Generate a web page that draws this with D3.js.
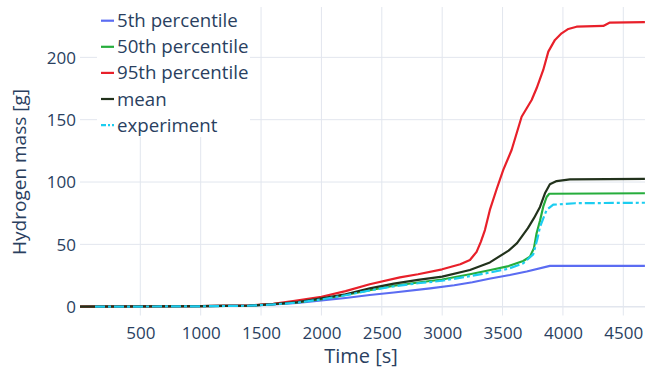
<!DOCTYPE html>
<html>
<head>
<meta charset="utf-8">
<script src="https://cdn.jsdelivr.net/npm/d3@7"></script>
<style>
  html, body { margin: 0; padding: 0; background: #fff; }
  svg { display: block; }
  text { font-family: "Open Sans", verdana, arial, sans-serif; fill: #2a3f5f; }
</style>
</head>
<body>
<svg id="chart" width="646" height="369"></svg>
<script>
// Hydrogen mass over time: percentiles, mean and experiment
const seriesNames = ["5th percentile", "50th percentile", "95th percentile", "mean", "experiment"];
const seriesColors = ["#5b6cf2", "#26ad3c", "#e8202a", "#22321c", "#1ccdf0"];

const p5 = [[0,0],[1000,0.4],[1400,0.8],[1600,1.8],[1800,3],[2000,5],[2200,7],[2400,9.4],[2600,11.4],
  [2900,14.7],[3100,17.2],[3250,19.6],[3400,22.6],[3560,25.4],[3700,28.2],[3892,32.7],[4679,32.7]];
const p50 = [[0,0],[1000,0.4],[1400,0.9],[1600,2],[1800,3.5],[2000,6],[2200,9.5],[2400,13.2],[2600,16.8],
  [2800,19.4],[3000,21.8],[3230,26],[3400,29.4],[3550,32.6],[3671,36.7],[3727,40.1],[3760,47],[3782,58.9],
  [3810,69],[3837,80.2],[3865,88],[3887,90.6],[4679,91]];
const p95 = [[0,0],[1000,0.5],[1400,1],[1600,2.2],[1765,4.6],[2000,8],[2200,12.5],[2400,18],[2650,23.5],
  [2800,26],[3000,30],[3150,34],[3230,37.5],[3285,44],[3320,52],[3354,61.5],[3395,77.6],[3450,94],
  [3506,109.7],[3575,125.7],[3658,152.4],[3741,165.8],[3782,175.2],[3837,189.9],[3879,204.6],[3934,214],
  [3989,219.3],[4045,222.8],[4113,224.6],[4334,225.2],[4389,227.9],[4679,228.2]];
const meanVals = [[0,0],[1000,0.4],[1400,0.9],[1600,2],[1800,3.7],[2000,6.7],[2200,10],[2400,14.7],
  [2600,18.5],[2800,21.5],[3000,24.1],[3230,29.4],[3395,35.5],[3550,45],[3620,51],[3710,63],[3760,71],
  [3810,80],[3851,91],[3892,98.2],[3948,100.8],[4058,102.2],[4679,102.5]];
const experiment = [[125,0],[1000,0.3],[1400,0.8],[1600,1.8],[1800,3.3],[2000,5.8],[2200,9.2],[2400,13],
  [2600,16.3],[2800,18.8],[3000,20.8],[3230,24.5],[3400,27.5],[3550,30.5],[3671,34.8],[3754,42],
  [3790,55],[3810,64],[3865,77.6],[3920,81.8],[4100,83],[4679,83.4]];

const xTicks = [500, 1000, 1500, 2000, 2500, 3000, 3500, 4000, 4500];
const yTicks = [0, 50, 100, 150, 200];
const xTitle = "Time [s]";
const yTitle = "Hydrogen mass [g]";

const allSeries = [p5, p50, p95, meanVals, experiment];

const svg = d3.select("#chart");
const plot = { left: 80, right: 645, top: 7, bottom: 315.5 };

const x = d3.scaleLinear().domain([0.6, 4679.7]).range([plot.left, plot.right]);
const y = d3.scaleLinear().domain([-7.06, 240.4]).range([plot.bottom, plot.top]);

// grid
const grid = svg.append("g");
grid.selectAll("line.gx").data(xTicks).join("line")
  .attr("x1", d => x(d)).attr("x2", d => x(d))
  .attr("y1", plot.top).attr("y2", plot.bottom)
  .attr("stroke", "#e2e6ee").attr("stroke-width", 1);
grid.selectAll("line.gy").data(yTicks).join("line")
  .attr("x1", plot.left).attr("x2", plot.right)
  .attr("y1", d => y(d)).attr("y2", d => y(d))
  .attr("stroke", "#e2e6ee").attr("stroke-width", d => d === 0 ? 1.6 : 1);

// axes (labels only, via d3 axis generators)
const xAxis = d3.axisBottom(x).tickValues(xTicks).tickSize(0).tickPadding(0).tickFormat(d3.format("d"));
const gx = svg.append("g").attr("transform", `translate(0,${plot.bottom})`).call(xAxis);
gx.select(".domain").remove();
gx.selectAll("text").attr("dy", null).attr("y", 23).style("font-size", "17px")
  .style("font-family", "'Open Sans', verdana, arial, sans-serif").attr("fill", "#2a3f5f");

const yAxis = d3.axisLeft(y).tickValues(yTicks).tickSize(0).tickPadding(0).tickFormat(d3.format("d"));
const gy = svg.append("g").attr("transform", `translate(76,0)`).call(yAxis);
gy.select(".domain").remove();
gy.selectAll("text").attr("dy", "0.35em").attr("x", 0).style("font-size", "17px")
  .style("font-family", "'Open Sans', verdana, arial, sans-serif").attr("fill", "#2a3f5f");

svg.append("text").attr("x", 361).attr("y", 363)
  .attr("text-anchor", "middle").style("font-size", "20px").text(xTitle);
svg.append("text").attr("transform", "translate(26,172) rotate(-90)")
  .attr("text-anchor", "middle").style("font-size", "19px").text(yTitle);

// lines
const clip = svg.append("clipPath").attr("id", "clip").append("rect")
  .attr("x", plot.left).attr("y", plot.top).attr("width", plot.right - plot.left).attr("height", plot.bottom - plot.top);
const line = d3.line().x(d => x(d[0])).y(d => y(d[1]));
const lines = svg.append("g").attr("clip-path", "url(#clip)");
allSeries.forEach((s, i) => {
  lines.append("path").datum(s).attr("d", line)
    .attr("fill", "none").attr("stroke", seriesColors[i]).attr("stroke-width", 2.2)
    .attr("stroke-linejoin", "round")
    .attr("stroke-dasharray", seriesNames[i] === "experiment" ? "10,3,3,3" : null);
});

// legend
const legend = svg.append("g");
legend.append("rect").attr("x", 97).attr("y", 7).attr("width", 153).attr("height", 130).attr("fill", "#fff");
seriesNames.forEach((name, i) => {
  const cy = 20.7 + i * 26.1;
  legend.append("line").attr("x1", 101).attr("x2", 114).attr("y1", cy).attr("y2", cy)
    .attr("stroke", seriesColors[i]).attr("stroke-width", 2.2)
    .attr("stroke-dasharray", name === "experiment" ? "5,2,2,2" : null);
  legend.append("text").attr("x", 117).attr("y", cy).attr("dy", "0.35em")
    .style("font-size", "18.7px").text(name);
});
</script>
</body>
</html>
